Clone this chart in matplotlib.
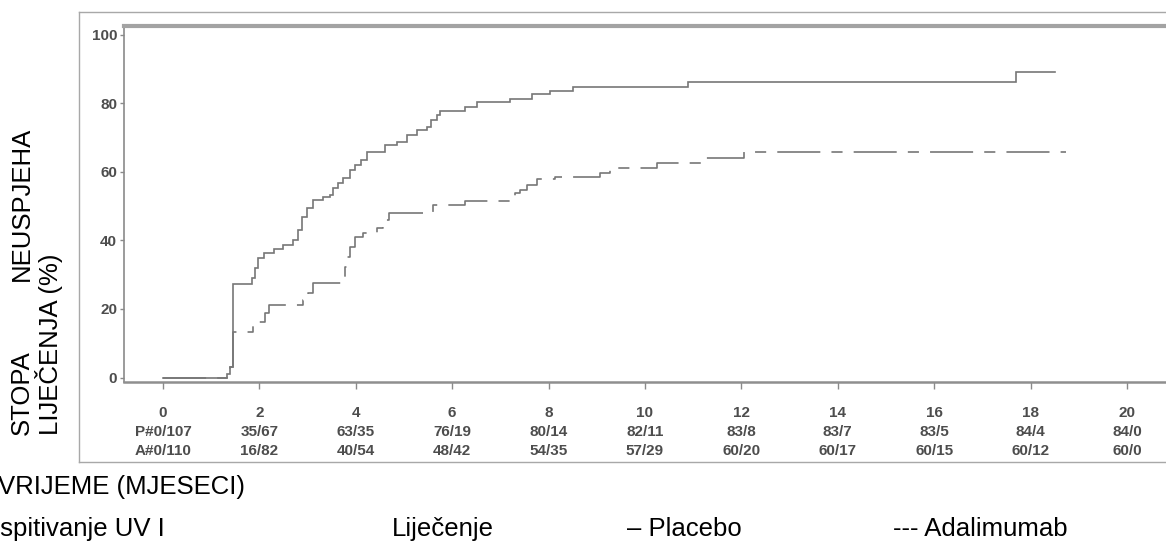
import matplotlib
matplotlib.use("Agg")
import matplotlib.pyplot as plt
from matplotlib.lines import Line2D

plt.rcParams['font.family'] = ['Liberation Sans', 'DejaVu Sans']
plt.rcParams['lines.scale_dashes'] = False

# ---- data ----
placebo_t = [0, 1.32, 1.40, 1.45, 1.84, 1.90, 1.97, 2.10, 2.30, 2.50, 2.70, 2.81, 2.88,
             2.98, 3.12, 3.33, 3.46, 3.53, 3.64, 3.74, 3.88, 3.98, 4.10, 4.23, 4.60,
             4.85, 5.06, 5.26, 5.47, 5.57, 5.68, 5.75, 6.27, 6.51, 7.20, 7.65, 8.03,
             8.51, 10.90, 17.70]
placebo_pct = [0, 1.0, 3.0, 27.3, 29.0, 32.0, 34.9, 36.2, 37.5, 38.6, 40.1, 43.0, 46.9,
               49.4, 51.7, 52.5, 53.2, 55.2, 56.7, 58.1, 60.5, 61.9, 63.4, 65.8, 67.8,
               68.8, 70.7, 72.2, 73.1, 75.1, 76.5, 77.8, 78.9, 80.4, 81.1, 82.6, 83.6,
               84.8, 86.3, 89.2]
placebo_end = 18.5

adalimumab_t = [0, 1.32, 1.40, 1.45, 1.87, 1.98, 2.12, 2.19, 2.91, 3.01, 3.12, 3.71,
                3.78, 3.81, 3.88, 3.98, 4.16, 4.43, 4.57, 4.68, 5.61, 6.27, 7.20, 7.30,
                7.41, 7.55, 7.75, 8.13, 9.07, 9.27, 10.24, 11.21, 12.05]
adalimumab_pct = [0, 1.0, 3.0, 13.2, 15.0, 16.3, 18.7, 21.1, 22.6, 24.5, 27.5, 28.4,
                  32.3, 35.2, 38.1, 41.0, 42.2, 43.5, 45.9, 47.9, 50.2, 51.6, 52.5, 53.8,
                  54.7, 56.1, 57.8, 58.5, 59.7, 61.1, 62.6, 64.0, 65.8]
adalimumab_end = 18.73

tick_months = [0, 2, 4, 6, 8, 10, 12, 14, 16, 18, 20]
risk_placebo = ["P#0/107", "35/67", "63/35", "76/19", "80/14", "82/11", "83/8", "83/7",
                "83/5", "84/4", "84/0"]
risk_adalimumab = ["A#0/110", "16/82", "40/54", "48/42", "54/35", "57/29", "60/20",
                   "60/17", "60/15", "60/12", "60/0"]
y_ticks = [0, 20, 40, 60, 80, 100]

# ---- figure ----
W, H = 1166, 541
fig = plt.figure(figsize=(W / 100, H / 100), dpi=100)

def fx(px):
    return px / W

def fy(py):
    return 1 - py / H

ax = fig.add_axes([fx(124), fy(382), fx(1166 - 124), (382 - 26) / H])
ax.set_xlim(-0.809, 20.81)
ax.set_ylim(-1.31, 102.5)

line_col = '#777777'
ax.step(placebo_t + [placebo_end], placebo_pct + [placebo_pct[-1]], where='post',
        color=line_col, lw=1.2, solid_joinstyle='miter')
ax.step(adalimumab_t + [adalimumab_end], adalimumab_pct + [adalimumab_pct[-1]],
        where='post', color=line_col, lw=1.2, linestyle=(0, (31, 8, 8, 8)))

for s in ['right']:
    ax.spines[s].set_visible(False)
ax.spines['top'].set_linewidth(3.0)
ax.spines['top'].set_color('#a3a3a3')
ax.spines['left'].set_linewidth(1.2)
ax.spines['left'].set_color('#8a8a8a')
ax.spines['bottom'].set_linewidth(1.8)
ax.spines['bottom'].set_color('#8f8f8f')

ax.set_yticks(y_ticks)
ax.set_yticklabels([str(v) for v in y_ticks], fontsize=11, fontweight='bold',
                   color='#4d4d4d')
xt_labels = [f"{m}\n{p}\n{a}" for m, p, a in zip(tick_months, risk_placebo, risk_adalimumab)]
ax.set_xticks(tick_months)
ax.set_xticklabels(xt_labels, fontsize=11, fontweight='bold', color='#4d4d4d',
                   linespacing=1.45)
ax.tick_params(axis='y', length=3, width=1, color='#8a8a8a', pad=2)
ax.tick_params(axis='x', length=5, width=1, color='#8a8a8a', pad=12)

# outer frame of the scanned figure
frame_col = '#a8a8a8'
fig.add_artist(Line2D([fx(79), fx(79)], [fy(12), fy(462)], transform=fig.transFigure,
                      color=frame_col, lw=1.0))
fig.add_artist(Line2D([fx(79), fx(1170)], [fy(12), fy(12)], transform=fig.transFigure,
                      color=frame_col, lw=1.0))
fig.add_artist(Line2D([fx(79), fx(1170)], [fy(462), fy(462)], transform=fig.transFigure,
                      color=frame_col, lw=1.0))

# y label (two rotated lines)
fs = 18.5
fig.text(fx(22), fy(435), "STOPA", rotation=90, ha='center', va='bottom', fontsize=fs)
fig.text(fx(22), fy(127), "NEUSPJEHA", rotation=90, ha='center', va='top', fontsize=fs)
fig.text(fx(49), fy(435), "LIJEČENJA (%)", rotation=90, ha='center', va='bottom',
         fontsize=fs)

# x label and bottom legend row
fig.text(fx(-2), fy(487), "VRIJEME (MJESECI)", ha='left', va='center', fontsize=fs)
fig.text(fx(-7), fy(529), "Ispitivanje UV I", ha='left', va='center', fontsize=fs)
fig.text(fx(392), fy(529), "Liječenje", ha='left', va='center', fontsize=fs)
fig.text(fx(627), fy(529), "– Placebo", ha='left', va='center', fontsize=fs)
fig.text(fx(893), fy(529), "--- Adalimumab", ha='left', va='center', fontsize=fs)

fig.savefig("out.png", dpi=100)
